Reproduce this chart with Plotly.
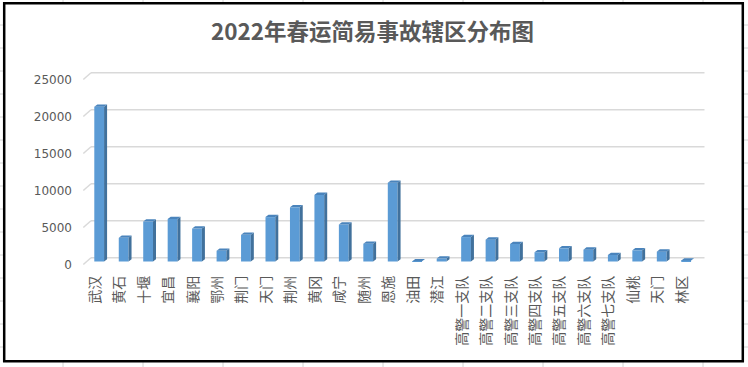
import plotly.graph_objects as go

title_text = "2022年春运简易事故辖区分布图"
categories = ["武汉", "黄石", "十堰", "宜昌", "襄阳", "鄂州", "荆门", "天门", "荆州", "黄冈",
              "咸宁", "随州", "恩施", "油田", "潜江", "高警一支队", "高警二支队", "高警三支队",
              "高警四支队", "高警五支队", "高警六支队", "高警七支队", "仙桃", "天门", "林区"]
values = [20900, 3200, 5400, 5750, 4450, 1450, 3600, 6000, 7320, 9000,
          5000, 2400, 10650, 40, 400, 3300, 2950, 2370, 1250, 1780,
          1600, 880, 1510, 1330, 120]
y_ticks = [0, 5000, 10000, 15000, 20000, 25000]

W, H = 748, 367
L, R, T, B = 91, 43, 69, 98
PW, PH = W - L - R, H - T - B
x_range = [-0.335, 24.77]
y_range = [-1013.5, 26013.5]
upx = (x_range[1] - x_range[0]) / PW   # x units per pixel
vpx = (y_range[1] - y_range[0]) / PH   # y units per pixel

FRONT = "#5B9BD5"
SIDE = "#41719C"
TOP = "#4A84BC"

xs = list(range(len(categories)))
bw = 0.4
dx = 3.0 * upx
dy = 2.3 * vpx

side_x, side_y, top_x, top_y = [], [], [], []
for x, v in zip(xs, values):
    r = x + bw / 2
    l = x - bw / 2
    side_x += [r, r + dx, r + dx, r, r, None]
    side_y += [0, dy, v + dy, v, 0, None]
    top_x += [l, r, r + dx, l + dx, l, None]
    top_y += [v, v, v + dy, v + dy, v, None]

fig = go.Figure()
fig.add_trace(go.Bar(x=xs, y=values, width=bw, marker=dict(color=FRONT, line=dict(width=0)),
                     showlegend=False))
fig.add_trace(go.Scatter(x=side_x, y=side_y, mode="lines", fill="toself", fillcolor=SIDE,
                         line=dict(width=0, color=SIDE), showlegend=False, hoverinfo="skip"))
fig.add_trace(go.Scatter(x=top_x, y=top_y, mode="lines", fill="toself", fillcolor=TOP,
                         line=dict(width=0, color=TOP), showlegend=False, hoverinfo="skip"))

def px_to_paper_x(px):
    return (px - L) / PW

def px_to_paper_y(py):
    return (H - B - py) / PH

shapes = []
grid_col = "#D9D9D9"
back_off = 3.7 * vpx
front_off = -3.0 * vpx
for t in y_ticks:
    shapes.append(dict(type="line", xref="paper", yref="y", x0=0, x1=px_to_paper_x(704.5),
                       y0=t + back_off, y1=t + back_off, line=dict(color=grid_col, width=1.5),
                       layer="below"))
    shapes.append(dict(type="line", xref="paper", yref="y", x0=px_to_paper_x(83.3), x1=0,
                       y0=t + front_off, y1=t + back_off, line=dict(color=grid_col, width=1.5),
                       layer="below"))

# spreadsheet cell lines outside the chart frame
cell_col = "#D4D4D4"
for k in range(9):
    cx = px_to_paper_x(63 + 80 * k)
    shapes.append(dict(type="line", xref="paper", yref="paper", x0=cx, x1=cx,
                       y0=px_to_paper_y(0), y1=px_to_paper_y(2.5), line=dict(color=cell_col, width=1)))
    shapes.append(dict(type="line", xref="paper", yref="paper", x0=cx, x1=cx,
                       y0=px_to_paper_y(362), y1=px_to_paper_y(367), line=dict(color=cell_col, width=1)))
for k in range(15):
    cy = px_to_paper_y(25 + 23 * k)
    shapes.append(dict(type="line", xref="paper", yref="paper", x0=px_to_paper_x(0), x1=px_to_paper_x(3),
                       y0=cy, y1=cy, line=dict(color=cell_col, width=1)))
    shapes.append(dict(type="line", xref="paper", yref="paper", x0=px_to_paper_x(744), x1=px_to_paper_x(748),
                       y0=cy, y1=cy, line=dict(color=cell_col, width=1)))

shapes.append(dict(type="rect", xref="paper", yref="paper",
                   x0=px_to_paper_x(4.2), x1=px_to_paper_x(742.8),
                   y0=px_to_paper_y(361.2), y1=px_to_paper_y(3.2),
                   line=dict(color="black", width=2.5), fillcolor="rgba(0,0,0,0)"))

fig.update_layout(
    width=W, height=H, autosize=False,
    margin=dict(l=L, r=R, t=T, b=B, pad=0),
    paper_bgcolor="white", plot_bgcolor="white",
    title=dict(text="<b>" + title_text + "</b>", x=372.5 / W, xanchor="center",
               y=1 - 32.5 / H, yanchor="middle",
               font=dict(family="Noto Sans CJK SC", size=22.5, color="#595959")),
    shapes=shapes,
    bargap=0.6,
    xaxis=dict(range=x_range, tickmode="array", tickvals=xs, ticktext=categories,
               tickangle=-90, showgrid=False, zeroline=False, showline=False, ticks="",
               tickfont=dict(family="Noto Sans CJK SC", size=14, color="#595959"),
               ticklabelstandoff=3, ticklabelshift=-4, automargin=False, fixedrange=True),
    yaxis=dict(range=y_range, tickmode="array", tickvals=y_ticks,
               ticktext=[str(t) for t in y_ticks],
               showgrid=False, zeroline=False, showline=False, ticks="",
               tickfont=dict(family="DejaVu Sans", size=12, color="#595959"),
               ticklabelstandoff=18, ticklabelshift=3, automargin=False, fixedrange=True),
)

fig.write_html("out.html", config={"displayModeBar": False},
               post_script="document.body.style.margin='0';document.body.style.overflow='hidden';")
